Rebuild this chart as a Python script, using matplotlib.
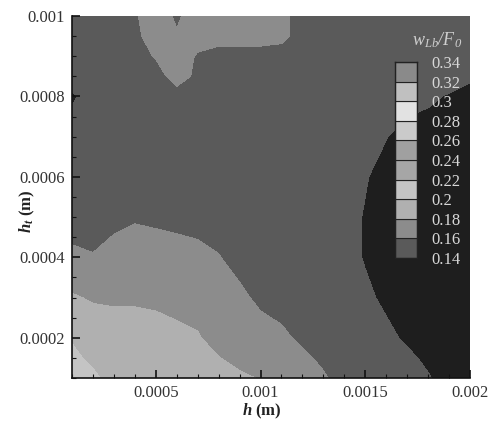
import matplotlib

matplotlib.use("Agg")
import matplotlib.pyplot as plt
import numpy as np
from matplotlib.colors import BoundaryNorm, ListedColormap
from matplotlib.ticker import FixedLocator, FuncFormatter, MultipleLocator

plt.rcParams["font.family"] = ["Liberation Serif", "DejaVu Serif"]
plt.rcParams["mathtext.fontset"] = "custom"
plt.rcParams["mathtext.rm"] = "Liberation Serif"
plt.rcParams["mathtext.it"] = "Liberation Serif:italic:bold"
plt.rcParams["mathtext.bf"] = "Liberation Serif:bold"
plt.rcParams["mathtext.sf"] = "Liberation Serif:italic"

# grid of the sampled field (h along x, h_t along y), values of w_Lb/F_0
h_vals = [0.0001, 0.0002, 0.0003, 0.0004, 0.0005, 0.0006, 0.0007, 0.0008, 0.0009, 0.001,
          0.0011, 0.0012, 0.0013, 0.0014, 0.0015, 0.0016, 0.0017, 0.0018, 0.0019, 0.002]
ht_vals = [0.0001, 0.00015, 0.0002, 0.0003, 0.0004, 0.0005, 0.0006, 0.0007, 0.0008,
           0.00085, 0.0009, 0.00095, 0.001]

w_ratio = [
    [.215, .205, .19, .19, .19, .19, .19, .19, .186, .178, .17, .17, .163, .15, .15, .15, .15, .142, .13, .13],
    [.205, .195, .19, .19, .19, .19, .185, .181, .17, .17, .17, .165, .155, .15, .15, .15, .145, .135, .13, .13],
    [.198, .192, .19, .19, .19, .186, .182, .17, .17, .17, .165, .155, .15, .15, .15, .146, .136, .13, .13, .13],
    [.182, .178, .177, .177, .175, .172, .17, .17, .165, .155, .15, .15, .15, .15, .145, .135, .13, .13, .13, .13],
    [.163, .162, .168, .17, .17, .17, .168, .161, .152, .15, .15, .15, .15, .15, .138, .13, .13, .13, .13, .13],
    [.1535, .145, .154, .158, .156, .153, .15, .15, .15, .15, .15, .15, .15, .15, .138, .13, .13, .13, .13, .13],
    [.15, .15, .15, .15, .15, .15, .15, .15, .15, .15, .15, .15, .15, .15, .142, .13, .13, .13, .13, .13],
    [.15, .15, .15, .15, .15, .15, .15, .15, .15, .15, .15, .15, .15, .15, .15, .141, .13, .13, .13, .13],
    [.137, .15, .15, .15, .15, .15, .15, .15, .15, .15, .15, .15, .15, .15, .15, .15, .15, .144, .138, .13],
    [.15, .15, .15, .15, .15, .17, .155, .15, .15, .15, .15, .15, .15, .15, .15, .15, .15, .15, .15, .145],
    [.15, .15, .15, .15, .162, .17, .158, .15, .15, .15, .15, .15, .15, .15, .15, .15, .15, .15, .15, .15],
    [.15, .15, .15, .155, .17, .162, .168, .17, .17, .17, .166, .15, .15, .15, .15, .15, .15, .15, .15, .15],
    [.15, .15, .15, .158, .17, .157, .17, .17, .17, .17, .166, .15, .15, .15, .15, .15, .15, .15, .15, .15],
]

levels = [0.14, 0.16, 0.18, 0.2, 0.22, 0.24, 0.26, 0.28, 0.3, 0.32, 0.34]
level_labels = ["0.14", "0.16", "0.18", "0.2", "0.22", "0.24", "0.26", "0.28", "0.3", "0.32", "0.34"]
grays = ["#5a5a5a", "#8c8c8c", "#b0b0b0", "#c4c4c4", "#a6a6a6", "#a0a0a0",
         "#cacaca", "#e2e2e2", "#c0c0c0", "#8a8a8a"]

x_ticks = [0.0005, 0.001, 0.0015, 0.002]
y_ticks = [0.0002, 0.0004, 0.0006, 0.0008, 0.001]

cmap = ListedColormap(grays)
cmap.set_under("#1e1e1e")
cmap.set_over("#444444")
norm = BoundaryNorm(levels, cmap.N)

fig = plt.figure(figsize=(4.95, 4.25), dpi=100)
ax = fig.add_axes([72 / 495, 47 / 425, 398 / 495, 362 / 425])

H, HT = np.meshgrid(h_vals, ht_vals)
ax.contourf(H, HT, np.array(w_ratio), levels=levels, cmap=cmap, norm=norm, extend="both")
ax.set_xlim(h_vals[0], h_vals[-1])
ax.set_ylim(ht_vals[0], ht_vals[-1])

fmt = FuncFormatter(lambda v, _: f"{v:g}")
ax.xaxis.set_major_locator(FixedLocator(x_ticks))
ax.yaxis.set_major_locator(FixedLocator(y_ticks))
ax.xaxis.set_major_formatter(fmt)
ax.yaxis.set_major_formatter(fmt)
ax.xaxis.set_minor_locator(MultipleLocator(0.0001))
ax.yaxis.set_minor_locator(MultipleLocator(0.00005))
ax.tick_params(which="both", direction="in", top=False, right=False,
               labelsize=12, labelcolor="#333333", color="#111111")
ax.tick_params(which="major", length=6, width=1.2, pad=5)
ax.tick_params(which="minor", length=3, width=0.8)
for side in ["top", "right"]:
    ax.spines[side].set_visible(False)
for side in ["left", "bottom"]:
    ax.spines[side].set_linewidth(1.2)
    ax.spines[side].set_color("#111111")

ax.set_xlabel(r"$h$ (m)", fontsize=12, fontweight="bold", color="#222222")
ax.set_ylabel(r"$h_t$ (m)", fontsize=12, fontweight="bold", color="#222222")
ax.xaxis.set_label_coords(0.477, -0.066)
ax.yaxis.set_label_coords(-0.088, 0.46)

# colorbar legend drawn inside the plot, Tecplot style
cax = fig.add_axes([395 / 495, (425 - 258) / 425, 22 / 495, 196 / 425])
for i, g in enumerate(grays):
    cax.bar(0.5, levels[i + 1] - levels[i], bottom=levels[i], width=1.0,
            color=g, edgecolor="#222222", linewidth=0.8)
cax.set_xlim(0, 1)
cax.set_ylim(levels[0], levels[-1])
cax.set_xticks([])
cax.yaxis.tick_right()
cax.set_yticks(levels)
cax.set_yticklabels(level_labels)
cax.tick_params(axis="y", length=0, pad=10, labelsize=12, labelcolor="#d8d8d8")
for sp in cax.spines.values():
    sp.set_color("#222222")
    sp.set_linewidth(1.0)
fig.text(437 / 495, 1 - 40 / 425, r"$\mathsf{w_{Lb}/F_0}$", fontsize=13,
         color="#cfcfcf", ha="center", va="center")

fig.savefig("out.png", dpi=100)
